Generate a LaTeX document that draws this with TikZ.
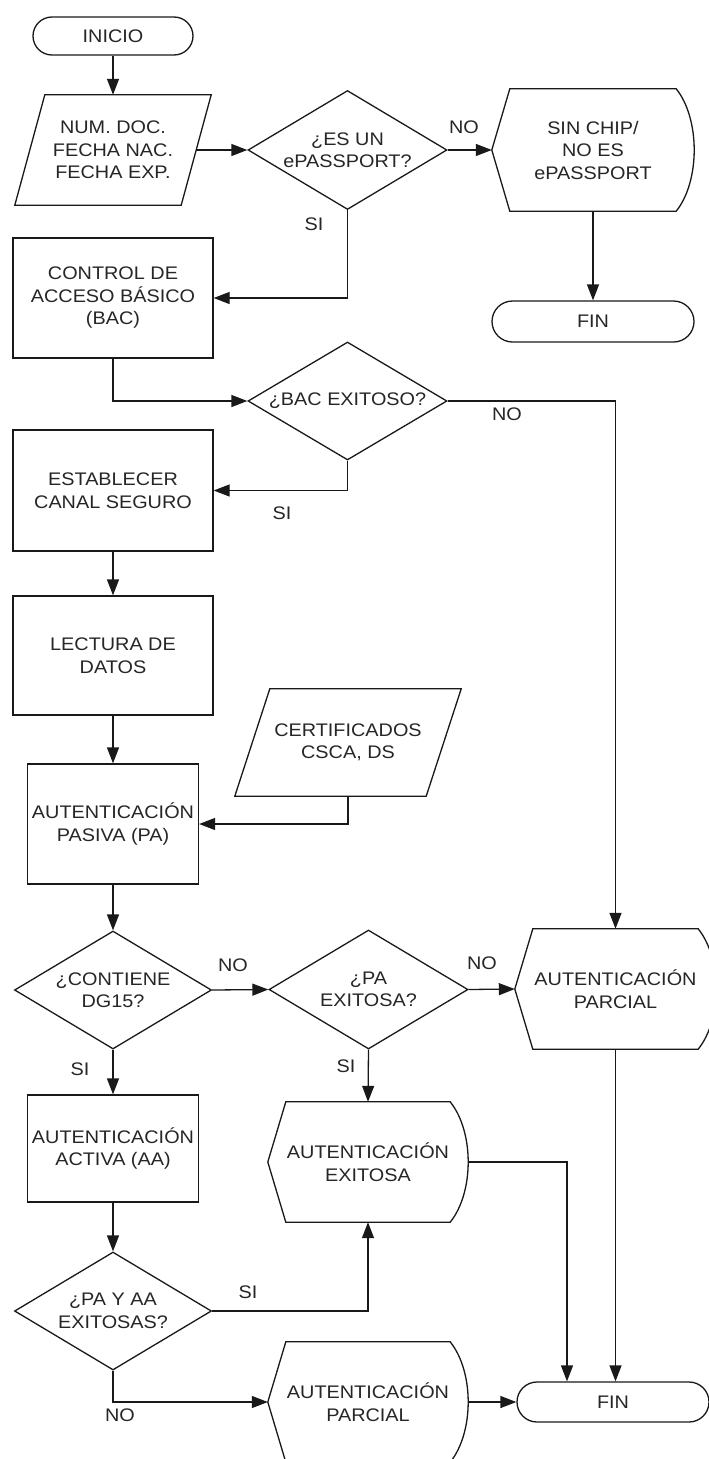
\documentclass[tikz,border=0pt]{standalone}
\usepackage{fontspec}
\setmainfont{Liberation Sans}[FakeStretch=1.09]
\usetikzlibrary{arrows.meta,shapes.geometric,shapes.misc}
\tikzset{
  ln/.style={line width=1.3pt, draw=black!90},
  arr/.style={ln, -{Triangle[length=16pt,width=12pt]}},
  txt/.style={font=\fontsize{18.2}{22.5}\selectfont, text=black!85, align=center},
  box/.style={txt, ln, rectangle, minimum width=200pt, inner sep=0pt},
  dia/.style={txt, ln, diamond, aspect=1.67, inner sep=0pt, minimum width=199pt, minimum height=119pt},
  term/.style={txt, ln, rounded rectangle, inner sep=0pt},
  ghost/.style={txt, rectangle, inner sep=0pt, draw=none},
  lbl/.style={txt}
}
\newcommand\dispout[1]{\draw[ln] (#1.west) -- ([xshift=18pt]#1.north west) -- ([xshift=-18pt]#1.north east) .. controls ([xshift=6pt,yshift=-30pt]#1.north east) and ([xshift=6pt,yshift=30pt]#1.south east) .. ([xshift=-18pt]#1.south east) -- ([xshift=18pt]#1.south west) -- cycle;}
\newcommand\paraout[2]{\draw[ln] ([xshift=#2]#1.north west) -- ([xshift=#2]#1.north east) -- ([xshift=-#2]#1.south east) -- ([xshift=-#2]#1.south west) -- cycle;}
\begin{document}
\begin{tikzpicture}[x=1pt,y=-1pt]
\useasboundingbox[fill=white] (0,0) rectangle (709,1459);
% terminators
\node[term, minimum width=160pt, minimum height=38pt] (inicio) at (113,36) {INICIO};
\node[term, minimum width=202pt, minimum height=41pt] (fin1) at (593,321.5) {FIN};
\node[term, minimum width=192pt, minimum height=40pt] (fin2) at (613,1402) {FIN};
% parallelograms
\node[ghost, minimum width=166pt, minimum height=110pt] (datos) at (113,150) {NUM. DOC.\\FECHA NAC.\\FECHA EXP.};
\paraout{datos}{15pt}
\node[ghost, minimum width=191pt, minimum height=107pt] (cert) at (348,742.5) {CERTIFICADOS\\CSCA, DS};
\paraout{cert}{17.5pt}
% diamonds
\node[dia] (d1) at (347.5,150) {¿ES UN\\ePASSPORT?};
\node[dia, minimum height=118pt] (d2) at (347.5,401) {¿BAC EXITOSO?};
\node[dia, minimum width=197pt, minimum height=118pt] (d3) at (113,990) {¿CONTIENE\\DG15?};
\node[dia] (d4) at (368.5,989.5) {¿PA\\EXITOSA?};
\node[dia, minimum width=197pt, minimum height=118pt] (d5) at (113,1311) {¿PA Y AA\\EXITOSAS?};
% boxes
\node[box, minimum height=120pt] (bac) at (113,298) {CONTROL DE\\ACCESO BÁSICO\\(BAC)};
\node[box, minimum height=121pt] (canal) at (113,490.5) {ESTABLECER\\CANAL SEGURO};
\node[box, minimum height=119pt] (lectura) at (113,655.5) {LECTURA DE\\DATOS};
\node[box, minimum width=171pt, minimum height=120pt] (pasiva) at (113,824) {AUTENTICACIÓN\\PASIVA (PA)};
\node[box, minimum width=171pt, minimum height=107pt] (activa) at (113,1148.5) {AUTENTICACIÓN\\ACTIVA (AA)};
% displays
\node[ghost, minimum width=202pt, minimum height=122pt] (sinchip) at (593,150) {SIN CHIP/\\NO ES\\ePASSPORT};
\dispout{sinchip}
\node[ghost, minimum width=201pt, minimum height=120pt] (parcial1) at (615.5,989) {AUTENTICACIÓN\\PARCIAL};
\dispout{parcial1}
\node[ghost, minimum width=200pt, minimum height=120pt] (exitosa) at (368,1162) {AUTENTICACIÓN\\EXITOSA};
\dispout{exitosa}
\node[ghost, minimum width=200pt, minimum height=120pt] (parcial2) at (368,1402) {AUTENTICACIÓN\\PARCIAL};
\dispout{parcial2}
% connectors
\draw[arr] (inicio.south) -- (datos.north);
\draw[arr] (datos.east) -- (d1.west);
\draw[arr] (d1.east) -- (sinchip.west);
\draw[arr] (sinchip.south) -- (fin1.north);
\draw[arr] (d1.south) |- (bac.east);
\draw[arr] (bac.south) |- (d2.west);
\draw[arr] (d2.east) -| (parcial1.north);
\draw[arr] (d2.south) |- (canal.east);
\draw[arr] (canal.south) -- (lectura.north);
\draw[arr] (lectura.south) -- (pasiva.north);
\draw[arr] (cert.south) |- (pasiva.east);
\draw[arr] (pasiva.south) -- (d3.north);
\draw[arr] (d3.east) -- (d4.west);
\draw[arr] (d4.east) -- (parcial1.west);
\draw[arr] (d4.south) -- (exitosa.north);
\draw[arr] (d3.south) -- (activa.north);
\draw[arr] (activa.south) -- (d5.north);
\draw[arr] (d5.east) -| (exitosa.south);
\draw[arr] (d5.south) |- (parcial2.west);
\draw[arr] (parcial2.east) -- (fin2.west);
\coordinate (finin) at ([xshift=-46pt]fin2.north);
\draw[arr] (exitosa.east) -| (finin);
\draw[arr] (parcial1.south) -- (parcial1.south |- fin2.north);
% labels
\node[lbl] (l1) at (464,127) {NO};
\node[lbl] (l2) at (314,224) {SI};
\node[lbl] (l3) at (507,414) {NO};
\node[lbl] (l4) at (282,513) {SI};
\node[lbl] (l5) at (233,965) {NO};
\node[lbl] (l6) at (482,963) {NO};
\node[lbl] (l7) at (346,1066) {SI};
\node[lbl] (l8) at (80,1069) {SI};
\node[lbl] (l9) at (248,1292) {SI};
\node[lbl] (l10) at (120,1415) {NO};
\end{tikzpicture}
\end{document}
